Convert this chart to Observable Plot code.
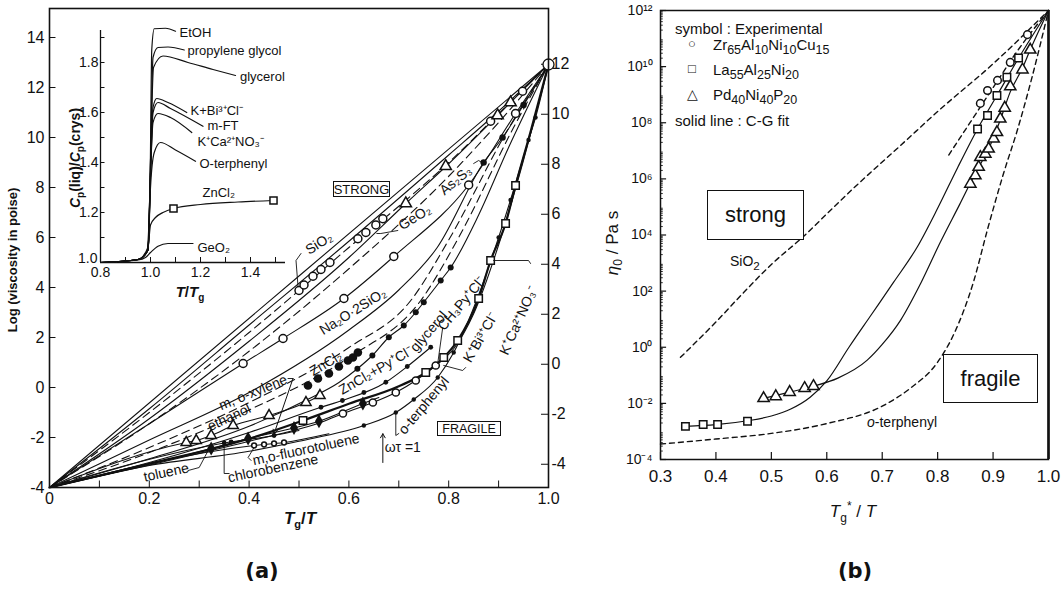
<!DOCTYPE html>
<html><head><meta charset="utf-8">
<script src="https://cdn.jsdelivr.net/npm/d3@7"></script>
<script src="https://cdn.jsdelivr.net/npm/@observablehq/plot@0.6"></script>
<style>
body{margin:0;background:#fff;}
#wrap{position:relative;width:1064px;height:590px;overflow:hidden;font-family:"Liberation Sans",Arial,sans-serif;color:#111;}
.abs{position:absolute;white-space:nowrap;line-height:1;}
.box{position:absolute;border:1.3px solid #111;display:flex;align-items:center;justify-content:center;box-sizing:border-box;background:#fff;}
svg{position:absolute;}
</style></head><body><div id="wrap"></div>
<script>
// ---------------- Panel (a): Angell plot ----------------
const aLeftTicks  = [-4,-2,0,2,4,6,8,10,12,14];
const aRightTicks = [-4,-2,0,2,4,6,8,10,12];
const RIGHT_OFFSET = 0.93;           // right axis is shifted relative to left axis
const aXTicks = [0,0.2,0.4,0.6,0.8,1.0];
const aXMinor = [0.1,0.2,0.3,0.4,0.5,0.6,0.7,0.8,0.9];

const strongA   = [[0,-4],[0.5,4.46],[1,12.92]];
const strongB   = [[0,-4],[0.2,-0.85],[0.4,2.5],[0.6,5.85],[0.8,9.3],[0.9,11.05],[1,12.92]];
const sio2Dash  = [[0,-4],[0.2,-1.0],[0.4,2.2],[0.5,3.88],[0.6,5.6],[0.7,7.25],[0.8,9.0],[0.9,10.95],[1,12.92]];
const sio2Circ  = [[0.5,3.88],[0.51,4.1],[0.528,4.45],[0.544,4.72],[0.562,5.0],[0.618,5.95],[0.634,6.2],[0.654,6.5],[0.668,6.75],[0.884,10.65],[0.948,11.85]];
const geo2Line  = [[0,-4],[0.2,-1.25],[0.4,1.85],[0.6,5.2],[0.714,7.36],[0.8,8.95],[0.9,10.92],[1,12.92]];
const geo2Tri   = [[0.714,7.36],[0.794,8.85],[0.898,10.88],[0.924,11.4]];
const dashE     = [[0,-4],[0.2,-1.45],[0.4,1.45],[0.6,4.75],[0.8,8.45],[0.9,10.6],[1,12.92]];
const na2oLine  = [[0,-4],[0.2,-1.45],[0.388,0.96],[0.468,1.96],[0.59,3.56],[0.69,5.24],[0.84,8.1],[0.934,10.96],[1,12.92]];
const na2oCirc  = [[0.388,0.96],[0.468,1.96],[0.59,3.56],[0.69,5.24],[0.84,8.1],[0.934,10.96]];
const as2s3Line = [[0,-4],[0.2,-2.1],[0.4,-0.2],[0.6,2.3],[0.7,3.9],[0.777,5.6],[0.87,9.0],[0.908,10.0],[0.95,11.3],[1,12.92]];
const as2s3Dots = [[0.87,9.0],[0.908,10.0],[0.95,11.3]];
const znDash1   = [[0,-4],[0.2,-2.4],[0.4,-0.6],[0.6,1.6],[0.724,3.48],[0.8,5.9],[0.918,10.3],[1,12.92]];
const znDash2   = [[0,-4],[0.2,-2.6],[0.4,-0.9],[0.6,1.2],[0.744,3.48],[0.82,6.0],[0.93,10.4],[1,12.92]];
const znBigDots = [[0.518,0.08],[0.538,0.36],[0.56,0.56],[0.58,0.84],[0.598,1.08],[0.608,1.2],[0.618,1.4]];
const glyLine   = [[0,-4],[0.2,-2.85],[0.4,-1.55],[0.52,-0.45],[0.58,0.2],[0.617,0.75],[0.647,1.28],[0.68,2.01],[0.71,2.48],[0.734,3.01],[0.75,3.41],[0.784,4.28],[0.804,4.8],[0.86,6.9],[0.92,9.6],[1,12.92]];
const glyDots   = [[0.617,0.75],[0.647,1.28],[0.68,2.01],[0.71,2.48],[0.734,3.01],[0.75,3.41],[0.784,4.28],[0.804,4.8]];
const znPyLine  = [[0,-4],[0.2,-3.0],[0.4,-1.8],[0.544,-0.79],[0.587,-0.52],[0.674,0.21],[0.717,0.84],[0.764,1.61]];
const znPyDots  = [[0.544,-0.79],[0.587,-0.52],[0.63,-0.2],[0.674,0.21],[0.717,0.84],[0.764,1.61]];
const kcaLine   = [[0,-4],[0.2,-3.05],[0.4,-2.05],[0.508,-1.32],[0.6,-0.65],[0.7,0.05],[0.754,0.6],[0.79,1.2],[0.818,1.88],[0.86,3.56],[0.884,5.08],[0.914,6.56],[0.934,8.08],[0.965,10.3],[1,12.92]];
const kcaSq     = [[0.508,-1.32],[0.754,0.6],[0.79,1.2],[0.818,1.88],[0.86,3.56],[0.884,5.08],[0.914,6.56],[0.934,8.08]];
const kbiLine   = [[0,-4],[0.2,-3.1],[0.4,-2.15],[0.55,-1.35],[0.588,-1.04],[0.648,-0.6],[0.694,-0.2],[0.734,0.28],[0.774,0.88],[0.81,1.55],[0.85,2.95],[0.9,5.7],[0.95,9.1],[1,12.92]];
const kbiCirc   = [[0.588,-1.04],[0.648,-0.6],[0.694,-0.2],[0.734,0.28],[0.774,0.88]];
const otpLine   = [[0,-4],[0.2,-3.12],[0.4,-2.55],[0.5,-2.15],[0.63,-1.52],[0.694,-1.0],[0.73,-0.48],[0.778,0.4],[0.81,1.4],[0.86,3.7],[0.9,6.0],[0.93,7.9],[0.96,9.9],[0.974,10.8],[1,12.92]];
const otpDots   = [[0.63,-1.52],[0.694,-1.0],[0.73,-0.48],[0.778,0.4],[0.81,1.4],[0.9,6.0],[0.924,7.5],[0.96,9.9],[0.974,10.8]];
const ethLine   = [[0,-4],[0.274,-2.2],[0.294,-2.12],[0.324,-1.92],[0.368,-1.52],[0.44,-1.12],[0.514,-0.6],[0.542,-0.32]];
const ethTri    = [[0.274,-2.2],[0.294,-2.12],[0.324,-1.92],[0.368,-1.52],[0.44,-1.12],[0.514,-0.6],[0.542,-0.32]];
const xylLine   = [[0,-4],[0.324,-2.44],[0.398,-2.04],[0.49,-1.62],[0.54,-1.35],[0.628,-0.64],[0.66,-0.4]];
const xylDiam   = [[0.324,-2.44],[0.398,-2.04],[0.49,-1.62],[0.54,-1.35],[0.628,-0.64]];
const fluLine   = [[0,-4],[0.41,-2.32],[0.47,-2.2],[0.56,-1.85]];
const fluCirc   = [[0.41,-2.32],[0.43,-2.28],[0.45,-2.24],[0.47,-2.2]];
const chlLine   = [[0,-4],[0.35,-2.22],[0.45,-1.92],[0.5,-1.72]];
const chlDots   = [[0.35,-2.22],[0.364,-2.18],[0.45,-1.92]];
const endPoint  = [[1,12.92]];

const aLabels = [
  {t:"SiO₂", x:0.54, y:5.76, r:-32},
  {t:"GeO₂", x:0.732, y:6.8, r:-32},
  {t:"As₂S₃", x:0.814, y:8.28, r:-40},
  {t:"Na₂O·2SiO₂", x:0.608, y:3.04, r:-32},
  {t:"ZnCl₂", x:0.554, y:0.96, r:-31},
  {t:"ZnCl₂+Py⁺Cl⁻", x:0.654, y:0.68, r:-30},
  {t:"glycerol", x:0.76, y:2.24, r:-49},
  {t:"CH₃Py⁺Cl⁻", x:0.826, y:3.36, r:-50},
  {t:"K⁺Bi³⁺Cl⁻", x:0.864, y:2.0, r:-60},
  {t:"K⁺Ca²⁺NO₃⁻", x:0.94, y:2.68, r:-66},
  {t:"o-terphenyl", x:0.75, y:-0.72, r:-50},
  {t:"ωτ =1", x:0.708, y:-2.4, r:0},
  {t:"m, o-xylene", x:0.408, y:-0.2, r:-22},
  {t:"ethanol", x:0.36, y:-1.2, r:-25},
  {t:"toluene", x:0.234, y:-3.4, r:-12},
  {t:"chlorobenzene", x:0.448, y:-3.24, r:-12},
  {t:"m,o-fluorotoluene", x:0.514, y:-2.48, r:-12}
];
const aLeaders = [
  [[0.504,5.36],[0.494,5.08],[0.498,4.05]],
  [[0.698,6.28],[0.664,6.16],[0.656,6.16]],
  [[0.85,8.96],[0.86,9.08],[0.868,8.98]],
  [[0.788,2.4],[0.778,0.96]],
  [[0.834,0.8],[0.828,0.68],[0.79,0.88]],
  [[0.964,4.96],[0.96,5.08],[0.89,5.08]],
  [[0.70,-1.84],[0.694,-1.92],[0.694,-1.04]],
  [[0.478,0.36],[0.488,0.36]],
  [[0.278,-3.32],[0.3,-3.2],[0.318,-2.52]],
  [[0.36,-3.44],[0.35,-3.44],[0.35,-2.24]],
  [[0.404,-2.92],[0.398,-2.8],[0.41,-2.4]]
];
const aArrows = [
  {x1:0.668, y1:-3.0, x2:0.668, y2:-1.85},
  {x1:0.488, y1:0.36, x2:0.45, y2:-1.85}
];

// ---------------- Inset: Cp(liq)/Cp(crys) vs T/Tg ----------------
const insetXTicks = [0.8,1.0,1.2,1.4];
const insetXMinor = [0.9,1.0,1.1,1.2,1.3,1.4,1.5];
const insetYTicks = [1.2,1.4,1.6,1.8];
const insetYOrigin = [1.0];
const insetYMinor = [1.1,1.2,1.3,1.4,1.5,1.6,1.7,1.8,1.9];
const cpEtOH   = [[0.8,1.0],[0.95,1.012],[0.985,1.04],[0.998,1.3],[1.005,1.85],[1.015,1.935],[1.06,1.937],[1.1,1.925]];
const cpPG     = [[0.8,1.0],[0.95,1.012],[0.99,1.05],[1.0,1.4],[1.01,1.82],[1.03,1.86],[1.07,1.862],[1.135,1.85]];
const cpGly    = [[0.8,1.0],[0.95,1.012],[0.99,1.05],[1.0,1.4],[1.012,1.78],[1.05,1.826],[1.15,1.8],[1.25,1.772],[1.34,1.748]];
const cpKBi    = [[0.8,1.0],[0.95,1.012],[0.99,1.05],[1.0,1.35],[1.01,1.62],[1.025,1.656],[1.07,1.64],[1.145,1.6]];
const cpMFT    = [[0.8,1.0],[0.95,1.012],[0.99,1.05],[1.0,1.35],[1.01,1.6],[1.03,1.64],[1.08,1.616],[1.21,1.545]];
const cpKCa    = [[0.8,1.0],[0.95,1.012],[0.99,1.05],[1.0,1.35],[1.01,1.56],[1.03,1.596],[1.08,1.58],[1.165,1.52]];
const cpOTP    = [[0.8,1.0],[0.95,1.012],[0.99,1.05],[1.0,1.3],[1.015,1.44],[1.04,1.48],[1.1,1.45],[1.18,1.405]];
const cpZnCl2  = [[0.8,1.0],[0.95,1.012],[0.99,1.06],[1.0,1.15],[1.02,1.18],[1.05,1.2],[1.092,1.216],[1.2,1.232],[1.35,1.242],[1.492,1.248]];
const cpZnSq   = [[1.092,1.216],[1.492,1.248]];
const cpGeO2   = [[0.8,1.0],[0.95,1.01],[0.98,1.02],[1.0,1.04],[1.03,1.065],[1.07,1.076],[1.17,1.076]];
const insetLabels = [
  {t:"EtOH", x:1.108, y:1.92},
  {t:"propylene glycol", x:1.14, y:1.845},
  {t:"glycerol", x:1.35, y:1.744},
  {t:"K+Bi³⁺Cl⁻", x:1.152, y:1.608},
  {t:"m-FT", x:1.22, y:1.545},
  {t:"K⁺Ca²⁺NO₃⁻", x:1.18, y:1.484},
  {t:"O-terphenyl", x:1.188, y:1.396},
  {t:"ZnCl₂", x:1.2, y:1.28},
  {t:"GeO₂", x:1.18, y:1.06}
];

// ---------------- Panel (b): viscosity of metallic glasses ----------------
const bXTicks = [0.3,0.4,0.5,0.6,0.7,0.8,0.9,1.0];
const bYTicks = [1e-4,1e-2,1e0,1e2,1e4,1e6,1e8,1e10,1e12];
const zrCirc  = [[0.877,8.69],[0.890,9.15],[0.908,9.51],[0.931,10.15],[0.962,11.14]];
const laSq    = [[0.345,-2.82],[0.377,-2.75],[0.403,-2.75],[0.457,-2.64],[0.872,7.78],[0.890,8.26],[0.907,8.97],[0.925,9.62],[0.946,10.31]];
const pdTri   = [[0.486,-1.82],[0.508,-1.75],[0.533,-1.6],[0.56,-1.46],[0.576,-1.39],
                 [0.859,5.82],[0.868,6.12],[0.874,6.42],[0.877,6.77],[0.886,6.89],[0.892,7.07],[0.901,7.43],[0.907,7.66],[0.913,8.14],[0.921,8.53],[0.931,9.29],[0.953,9.89],[0.967,10.60]];
const laFit   = [[0.345,-2.82],[0.40,-2.76],[0.457,-2.62],[0.5,-2.45],[0.535,-2.2],[0.57,-1.78],[0.6,-1.2],[0.64,0.0],[0.68,1.15],[0.72,2.3],[0.764,3.6],[0.8,4.95],[0.836,6.4],[0.872,7.78],[0.907,8.97],[0.946,10.3],[1.0,12.0]];
const pdFit   = [[0.486,-1.82],[0.533,-1.6],[0.576,-1.39],[0.62,-1.1],[0.673,-0.46],[0.7,0.1],[0.733,0.96],[0.77,2.3],[0.805,3.75],[0.84,5.1],[0.868,6.2],[0.892,7.07],[0.913,8.1],[0.931,9.1],[0.953,9.95],[0.967,10.6],[1.0,12.0]];
const zrDash  = [[0.82,6.85],[0.86,8.05],[0.9,9.25],[0.94,10.45],[1.0,12.0]];
const sio2B   = [[0.336,-0.36],[0.4,0.9],[0.45,1.95],[0.5,2.95],[0.558,3.95],[0.6,4.75],[0.65,5.7],[0.7,6.6],[0.733,7.19],[0.8,8.4],[0.9,10.1],[1.0,12.0]];
const otpB    = [[0.3,-3.45],[0.4,-3.27],[0.5,-3.07],[0.6,-2.72],[0.7,-2.1],[0.75,-1.47],[0.8,-0.53],[0.83,0.5],[0.865,2.35],[0.89,4.2],[0.919,6.2],[0.944,7.75],[0.97,9.6],[1.0,12.0]];

// ---------------- helpers ----------------
const INK = "#111";
const FONT = "'Liberation Sans', Arial, sans-serif";
const px = p => p[0], py = p => p[1];
const pow10 = p => Math.pow(10, p[1]);
const SUP = {"-":"⁻","0":"⁰","1":"¹","2":"²","3":"³","4":"⁴","5":"⁵","6":"⁶","7":"⁷","8":"⁸","9":"⁹"};
const supStr = n => String(n).split("").map(c => SUP[c]).join("");
const wrap = document.getElementById("wrap");
function place(el, left, top){ el.style.left = left+"px"; el.style.top = top+"px"; wrap.appendChild(el); }
function html(s, left, top, css){ const d=document.createElement("div"); d.className="abs"; d.innerHTML=s; if(css) d.style.cssText+=css; place(d,left,top); return d; }

const lineA = (data, o={}) => Plot.line(data, {x:px, y:py, curve:"monotone-x", stroke:INK, strokeWidth:1.1, ...o});
const dashA = (data, o={}) => lineA(data, {strokeDasharray:"8,5", ...o});

// ---------------- draw panel (a) ----------------
const aPlot = Plot.plot({
  width: 600, height: 540, marginLeft: 49, marginRight: 52, marginTop: 8, marginBottom: 53,
  x: {domain: [0, 1]}, y: {domain: [-4, 15.16]},
  style: {fontFamily: FONT, background: "transparent", color: INK, overflow: "visible"},
  marks: [
    Plot.axisX({ticks: aXTicks, tickSize: 0, tickPadding: 5, fontSize: 16, label: null, tickFormat: d => d === 0 ? "0" : d.toFixed(1)}),
    Plot.axisY({ticks: aLeftTicks, tickSize: 0, tickPadding: 5, fontSize: 16, label: null, tickFormat: d => String(d)}),
    Plot.axisY({ticks: aRightTicks.map(r => r + RIGHT_OFFSET), anchor: "right", tickSize: 0, tickPadding: 3, fontSize: 16, label: null, tickFormat: d => String(Math.round(d - RIGHT_OFFSET))}),
    Plot.ruleY(aLeftTicks, {y: d => d, x1: 0, x2: 0.013, stroke: INK}),
    Plot.ruleY(aRightTicks, {y: d => d + RIGHT_OFFSET, x1: 0.986, x2: 1.0, stroke: INK}),
    Plot.ruleX(aXMinor, {x: d => d, y1: -4, y2: -3.74, stroke: INK}),
    lineA(strongA, {curve: "linear"}), lineA(strongB), dashA(sio2Dash), lineA(geo2Line), dashA(dashE),
    lineA(na2oLine), lineA(as2s3Line), dashA(znDash1), dashA(znDash2), lineA(glyLine), lineA(znPyLine),
    lineA(kcaLine, {strokeWidth: 2.2}), lineA(kbiLine), lineA(otpLine), lineA(ethLine), lineA(xylLine),
    lineA(fluLine), lineA(chlLine),
    Plot.dot(sio2Circ, {x: px, y: py, r: 4, fill: "white", stroke: INK}),
    Plot.dot(geo2Tri, {x: px, y: py, r: 4.2, symbol: "triangle", fill: "white", stroke: INK}),
    Plot.dot(na2oCirc, {x: px, y: py, r: 4, fill: "white", stroke: INK}),
    Plot.dot(as2s3Dots, {x: px, y: py, r: 3.2, fill: INK}),
    Plot.dot(znBigDots, {x: px, y: py, r: 4.3, fill: INK}),
    Plot.dot(glyDots, {x: px, y: py, r: 3, fill: INK}),
    Plot.dot(znPyDots, {x: px, y: py, r: 2.4, fill: INK}),
    Plot.dot(kcaSq, {x: px, y: py, r: 4.2, symbol: "square", fill: "white", stroke: INK}),
    Plot.dot(kbiCirc, {x: px, y: py, r: 3.6, fill: "white", stroke: INK}),
    Plot.dot(otpDots, {x: px, y: py, r: 2.2, fill: INK}),
    Plot.dot(ethTri, {x: px, y: py, r: 3.8, symbol: "triangle", fill: "white", stroke: INK}),
    Plot.dot(xylDiam, {x: px, y: py, r: 4.2, symbol: "diamond", fill: INK}),
    Plot.dot(fluCirc, {x: px, y: py, r: 2.4, fill: "white", stroke: INK}),
    Plot.dot(chlDots, {x: px, y: py, r: 2.4, fill: INK}),
    Plot.dot(endPoint, {x: px, y: py, r: 5.5, fill: "white", stroke: INK, strokeWidth: 1.3}),
    ...aLeaders.map(l => Plot.line(l, {x: px, y: py, stroke: INK, strokeWidth: 0.9})),
    Plot.arrow(aArrows, {x1: "x1", y1: "y1", x2: "x2", y2: "y2", stroke: INK, strokeWidth: 1, headLength: 7}),
    Plot.text(aLabels, {x: "x", y: "y", text: "t", rotate: "r", fontSize: 14, fill: INK}),
    Plot.frame({stroke: INK, strokeWidth: 1.6})
  ]
});
place(aPlot, 0, 0);

// ---------------- inset ----------------
const inset = Plot.plot({
  width: 300, height: 300, marginLeft: 100, marginRight: 15, marginTop: 30, marginBottom: 38,
  x: {domain: [0.8, 1.54]}, y: {domain: [1.0, 1.928]},
  style: {fontFamily: FONT, background: "transparent", color: INK, overflow: "visible"},
  marks: [
    Plot.ruleX([0.8], {stroke: INK, strokeWidth: 1.3}),
    Plot.ruleY([1.0], {stroke: INK, strokeWidth: 1.3}),
    Plot.axisX({ticks: insetXTicks, tickSize: 0, tickPadding: 5, fontSize: 14, label: null, tickFormat: d => d.toFixed(1)}),
    Plot.axisY({ticks: insetYTicks, tickSize: 0, tickPadding: 2, fontSize: 14, label: null, tickFormat: d => d.toFixed(1)}),
    Plot.axisY({ticks: insetYOrigin, tickSize: 0, tickPadding: 3, fontSize: 14, label: null, dy: -4, tickFormat: d => d.toFixed(1)}),
    Plot.ruleY(insetYMinor, {y: d => d, x1: 0.8, x2: 0.818, stroke: INK}),
    Plot.ruleX(insetXMinor, {x: d => d, y1: 1.0, y2: 1.02, stroke: INK}),
    ...[cpEtOH, cpPG, cpGly, cpKBi, cpMFT, cpKCa, cpOTP, cpZnCl2, cpGeO2].map(c => Plot.line(c, {x: px, y: py, curve: "monotone-x", stroke: INK, strokeWidth: 1.2})),
    Plot.dot(cpZnSq, {x: px, y: py, r: 4, symbol: "square", fill: "white", stroke: INK}),
    Plot.text(insetLabels, {x: "x", y: "y", text: "t", textAnchor: "start", fontSize: 13, fill: INK, dx: 2})
  ]
});
place(inset, 0, 0);

// ---------------- draw panel (b) ----------------
const B_LEFT = 560, B_PLOT_H = 449;
const decadePx = B_PLOT_H / 16;
const xTickLenB = Math.pow(10, 7 / decadePx);
const yMinorB = d3.range(-4, 12).flatMap(k => d3.range(2, 10).map(m => m * Math.pow(10, k)));
const lineB = (data, o={}) => Plot.line(data, {x: px, y: pow10, curve: "monotone-x", stroke: INK, strokeWidth: 1.2, ...o});
const bPlot = Plot.plot({
  width: 504, height: 540, marginLeft: 100, marginRight: 16, marginTop: 10, marginBottom: 81,
  x: {domain: [0.3, 1.0]}, y: {type: "log", domain: [1e-4, 1e12]},
  style: {fontFamily: FONT, background: "transparent", color: INK, overflow: "visible"},
  marks: [
    Plot.axisX({ticks: bXTicks, tickSize: 0, tickPadding: 10, fontSize: 17, label: null, tickFormat: d => d.toFixed(1)}),
    Plot.axisY({ticks: bYTicks, tickSize: 0, tickPadding: 8, fontSize: 14, label: null, tickFormat: d => "10" + supStr(Math.round(Math.log10(d)))}),
    Plot.ruleY(bYTicks, {y: d => d, x1: 0.3, x2: 0.311, stroke: INK, strokeWidth: 1.2}),
    Plot.ruleY(yMinorB, {y: d => d, x1: 0.3, x2: 0.305, stroke: INK, strokeWidth: 0.9}),
    Plot.ruleX(bXTicks, {x: d => d, y1: 1e-4, y2: 1e-4 * xTickLenB, stroke: INK, strokeWidth: 1.2}),
    lineB(sio2B, {strokeDasharray: "5,4", strokeWidth: 1.4}),
    lineB(otpB, {strokeDasharray: "5,4", strokeWidth: 1.4}),
    lineB(zrDash, {strokeDasharray: "5,4", strokeWidth: 1.4}),
    lineB(laFit), lineB(pdFit),
    Plot.dot(zrCirc, {x: px, y: pow10, r: 3.8, fill: "white", stroke: INK}),
    Plot.dot(laSq, {x: px, y: pow10, r: 4.2, symbol: "square", fill: "white", stroke: INK}),
    Plot.dot(pdTri, {x: px, y: pow10, r: 4.2, symbol: "triangle", fill: "white", stroke: INK}),
    Plot.frame({stroke: INK, strokeWidth: 1.5}),
    Plot.ruleX([1.0], {stroke: INK, strokeWidth: 2.6})
  ]
});
place(bPlot, B_LEFT, 0);

// ---------------- HTML text (titles, boxes, legend) ----------------
// panel (a)
html("Log (viscosity in poise)", 12, 260, "font-weight:bold;font-size:13px;transform:translate(-50%,-50%) rotate(-90deg);");
html("<i>T</i><sub style='font-size:11px'>g</sub>/<i>T</i>", 300, 520, "font-weight:bold;font-size:17px;transform:translate(-50%,-50%);");
html("<i>C</i><sub style='font-size:10px'>p</sub>(liq)/<i>C</i><sub style='font-size:10px'>p</sub>(crys)", 77, 158, "font-weight:bold;font-size:14px;transform:translate(-50%,-50%) rotate(-90deg);");
html("<i>T</i>/<i>T</i><sub style='font-size:10px'>g</sub>", 190, 293, "font-weight:bold;font-size:15px;transform:translate(-50%,-50%);");
const strongBox = document.createElement("div"); strongBox.className = "box";
strongBox.style.cssText += "width:57px;height:16px;font-size:13px;"; strongBox.textContent = "STRONG"; place(strongBox, 333, 181);
const fragBox = document.createElement("div"); fragBox.className = "box";
fragBox.style.cssText += "width:64px;height:15px;font-size:12.5px;"; fragBox.textContent = "FRAGILE"; place(fragBox, 437, 421);
html("(a)", 262, 571, "font-family:'DejaVu Sans',sans-serif;font-weight:bold;font-size:21px;transform:translate(-50%,-50%);");

// panel (b)
html("symbol : Experimental", 675, 21, "font-size:15px;");
html("○", 688, 37, "font-size:13px;");
html("Zr<sub>65</sub>Al<sub>10</sub>Ni<sub>10</sub>Cu<sub>15</sub>", 713, 37, "font-size:15px;");
html("□", 688, 62, "font-size:13px;");
html("La<sub>55</sub>Al<sub>25</sub>Ni<sub>20</sub>", 713, 62, "font-size:15px;");
html("△", 687, 87, "font-size:14px;");
html("Pd<sub>40</sub>Ni<sub>40</sub>P<sub>20</sub>", 713, 87, "font-size:15px;");
html("solid line : C-G fit", 675, 113, "font-size:15px;");
const bStrong = document.createElement("div"); bStrong.className = "box";
bStrong.style.cssText += "width:97px;height:50px;font-size:22px;"; bStrong.textContent = "strong"; place(bStrong, 707, 190);
html("SiO<sub>2</sub>", 730, 254, "font-size:14px;");
const bFrag = document.createElement("div"); bFrag.className = "box";
bFrag.style.cssText += "width:95px;height:49px;font-size:22px;"; bFrag.textContent = "fragile"; place(bFrag, 943, 354);
html("<i>o</i>-terphenyl", 867, 415, "font-size:14px;");
html("<i>η</i><sub style='font-size:12px'>0</sub> / Pa s", 614, 243, "font-size:17px;transform:translate(-50%,-50%) rotate(-90deg);");
html("<i>T</i><sub style='font-size:12px'>g</sub><sup style='font-size:12px'>*</sup> / <i>T</i>", 853, 512, "font-size:17px;transform:translate(-50%,-50%);");
html("(b)", 855, 571, "font-family:'DejaVu Sans',sans-serif;font-weight:bold;font-size:21px;transform:translate(-50%,-50%);");
</script></body></html>
